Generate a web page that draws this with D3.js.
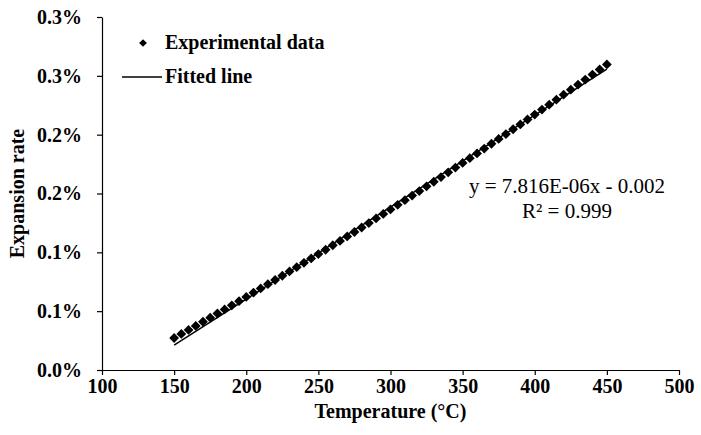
<!DOCTYPE html>
<html>
<head>
<meta charset="utf-8">
<script src="https://cdn.jsdelivr.net/npm/d3@7"></script>
<style>
  html, body { margin: 0; padding: 0; background: #fff; }
  svg { display: block; }
</style>
</head>
<body>
<svg id="chart"></svg>
<script>
// Measured temperatures (°C) and expansion rate readings
const temperatures = [
  150, 155, 160, 165, 170, 175, 180, 185, 190, 195,
  200, 205, 210, 215, 220, 225, 230, 235, 240, 245,
  250, 255, 260, 265, 270, 275, 280, 285, 290, 295,
  300, 305, 310, 315, 320, 325, 330, 335, 340, 345,
  350, 355, 360, 365, 370, 375, 380, 385, 390, 395,
  400, 405, 410, 415, 420, 425, 430, 435, 440, 445,
  450
];
const expansionRate = [
  0.000272, 0.000307, 0.000341, 0.000375, 0.000410, 0.000445, 0.000480, 0.000515, 0.000550, 0.000585,
  0.000621, 0.000657, 0.000693, 0.000729, 0.000765, 0.000801, 0.000838, 0.000874, 0.000911, 0.000948,
  0.000985, 0.001022, 0.001060, 0.001097, 0.001135, 0.001173, 0.001211, 0.001249, 0.001288, 0.001326,
  0.001365, 0.001404, 0.001443, 0.001482, 0.001521, 0.001561, 0.001600, 0.001640, 0.001680, 0.001720,
  0.001760, 0.001800, 0.001841, 0.001882, 0.001923, 0.001964, 0.002005, 0.002046, 0.002087, 0.002129,
  0.002171, 0.002213, 0.002255, 0.002297, 0.002340, 0.002382, 0.002425, 0.002468, 0.002511, 0.002554,
  0.002597
];

// Linear fit shown on the chart
const fitSlope = 7.816e-6;
const fitIntercept = -0.00096;
const fitRange = [150, 450];

const xTicks = [100, 150, 200, 250, 300, 350, 400, 450, 500];
const yTicks = [0, 0.0005, 0.001, 0.0015, 0.002, 0.0025, 0.003];
const yTickLabels = ['0.0%', '0.1%', '0.1%', '0.2%', '0.2%', '0.3%', '0.3%'];

const equationLines = ['y = 7.816E-06x  - 0.002', 'R\u00b2 = 0.999'];
const legendLabels = ['Experimental data', 'Fitted line'];

const W = 701, H = 435;
const margin = { top: 17, right: 22, bottom: 65, left: 102 };
const width = W - margin.left - margin.right;
const height = H - margin.top - margin.bottom;
const font = '"Liberation Serif", "Times New Roman", serif';

const svg = d3.select('#chart')
  .attr('width', W)
  .attr('height', H)
  .style('background', '#fff');

const g = svg.append('g')
  .attr('transform', `translate(${margin.left},${margin.top})`);

const x = d3.scaleLinear().domain([100, 500]).range([0, width]);
const y = d3.scaleLinear().domain([0, 0.003]).range([height, 0]);

// X axis
const xAxis = g.append('g')
  .attr('transform', `translate(0,${height})`)
  .call(d3.axisBottom(x).tickValues(xTicks).tickSize(5).tickPadding(4).tickSizeOuter(0));

// Y axis
const yAxis = g.append('g')
  .call(d3.axisLeft(y).tickValues(yTicks).tickFormat((d, i) => yTickLabels[i])
    .tickSize(5).tickPadding(15).tickSizeOuter(0));

[xAxis, yAxis].forEach(ax => {
  ax.select('.domain').attr('stroke', '#000').attr('stroke-width', 1.2);
  ax.selectAll('.tick line').attr('stroke', '#000').attr('stroke-width', 1.2);
  ax.selectAll('.tick text')
    .attr('fill', '#000')
    .attr('font-family', font)
    .attr('font-weight', 'bold')
    .attr('font-size', '20px');
});

// Axis titles
g.append('text')
  .attr('x', width / 2)
  .attr('y', height + 48)
  .attr('text-anchor', 'middle')
  .attr('font-family', font)
  .attr('font-weight', 'bold')
  .attr('font-size', '20px')
  .text('Temperature (\u00b0C)');

g.append('text')
  .attr('transform', `translate(${-78},${height / 2}) rotate(-90)`)
  .attr('text-anchor', 'middle')
  .attr('font-family', font)
  .attr('font-weight', 'bold')
  .attr('font-size', '20px')
  .text('Expansion rate');

// Fitted line
g.append('line')
  .attr('x1', x(fitRange[0]))
  .attr('y1', y(fitSlope * fitRange[0] + fitIntercept))
  .attr('x2', x(fitRange[1]))
  .attr('y2', y(fitSlope * fitRange[1] + fitIntercept))
  .attr('stroke', '#000')
  .attr('stroke-width', 1.5);

// Data points (diamonds)
const diamond = d3.symbol().type(d3.symbolSquare).size(48);
g.selectAll('.pt')
  .data(temperatures.map((t, i) => ({ t, v: expansionRate[i] })))
  .enter()
  .append('path')
  .attr('class', 'pt')
  .attr('d', diamond)
  .attr('transform', d => `translate(${x(d.t)},${y(d.v)}) rotate(45)`)
  .attr('fill', '#000');

// Equation
const eq = g.append('text')
  .attr('font-family', font)
  .attr('font-size', '21px')
  .attr('text-anchor', 'middle');
equationLines.forEach((line, i) => {
  eq.append('tspan')
    .attr('x', 465)
    .attr('y', 176 + i * 25)
    .text(line);
});

// Legend
const legend = svg.append('g');
legend.append('path')
  .attr('d', d3.symbol().type(d3.symbolSquare).size(30))
  .attr('transform', 'translate(143,43) rotate(45)')
  .attr('fill', '#000');
legend.append('line')
  .attr('x1', 122).attr('x2', 162)
  .attr('y1', 77).attr('y2', 77)
  .attr('stroke', '#000')
  .attr('stroke-width', 1.5);
legendLabels.forEach((label, i) => {
  legend.append('text')
    .attr('x', 165)
    .attr('y', 49 + i * 34)
    .attr('font-family', font)
    .attr('font-weight', 'bold')
    .attr('font-size', '20px')
    .text(label);
});
</script>
</body>
</html>
